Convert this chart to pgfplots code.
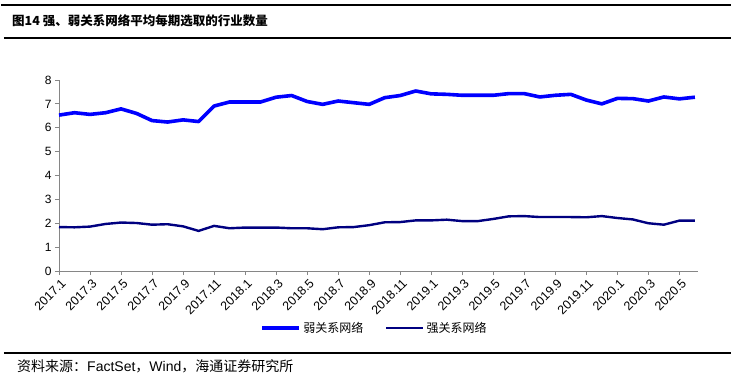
\documentclass[border=0pt]{standalone}
\usepackage{fontspec}
\setmainfont{Liberation Sans}
\newfontfamily\cjk{Noto Sans CJK SC}
\usepackage{pgfplots}
\usepackage{pgfplotstable}
\pgfplotsset{compat=1.18}
\usetikzlibrary{calc}
\definecolor{weak}{RGB}{0,0,255}
\definecolor{strong}{RGB}{0,0,128}
\definecolor{axgray}{RGB}{134,134,134}

\pgfplotstableread{
i weak strong
0 6.53 1.84
1 6.63 1.83
2 6.56 1.86
3 6.63 1.97
4 6.79 2.03
5 6.60 2.01
6 6.30 1.94
7 6.24 1.96
8 6.33 1.87
9 6.26 1.68
10 6.91 1.89
11 7.08 1.79
12 7.08 1.82
13 7.08 1.82
14 7.28 1.82
15 7.35 1.79
16 7.10 1.79
17 6.98 1.75
18 7.12 1.83
19 7.05 1.84
20 6.98 1.92
21 7.26 2.04
22 7.35 2.05
23 7.54 2.12
24 7.42 2.12
25 7.40 2.15
26 7.36 2.09
27 7.36 2.09
28 7.36 2.18
29 7.43 2.29
30 7.43 2.30
31 7.29 2.26
32 7.36 2.26
33 7.40 2.26
34 7.16 2.25
35 7.00 2.30
36 7.23 2.22
37 7.22 2.16
38 7.12 2.00
39 7.29 1.94
40 7.21 2.11
41 7.28 2.11
}\datatable

\begin{document}
\begin{tikzpicture}
\begin{axis}[
  name=ax,
  scale only axis, width=639pt, height=191pt,
  xmin=0, xmax=41.2, ymin=0, ymax=8,
  ytick={0,1,...,8},
  xtick={0,2,...,40},
  xticklabels={2017.1,2017.3,2017.5,2017.7,2017.9,2017.11,2018.1,2018.3,2018.5,2018.7,2018.9,2018.11,2019.1,2019.3,2019.5,2019.7,2019.9,2019.11,2020.1,2020.3,2020.5},
  axis lines*=left,
  axis line style={axgray, line width=0.8pt},
  tick style={axgray, line width=0.8pt},
  tick align=outside,
  major tick length=4pt,
  /pgf/number format/assume math mode=true,
  x tick label style={rotate=45, anchor=north east, font=\fontsize{12.5}{13}\selectfont, xshift=1pt, yshift=-1pt, inner sep=2pt},
  y tick label style={font=\fontsize{12}{13}\selectfont},
  legend style={at={(0.494,-0.298)}, anchor=center, draw=none, fill=none,
    legend columns=2, font=\cjk\fontsize{12}{14}\selectfont,
    /tikz/every even column/.append style={column sep=20pt}},
  legend image code/.code={\draw[#1] (0pt,0pt) -- (37pt,0pt);},
  clip=false,
]
\addplot[weak, line width=3.6pt, line join=round] table[x=i,y=weak] {\datatable};
\addlegendentry{弱关系网络}
\addplot[strong, line width=2.4pt, line join=round] table[x=i,y=strong] {\datatable};
\addlegendentry{强关系网络}
\coordinate (O) at (rel axis cs:0,0);
\end{axis}
\pgfresetboundingbox
\begin{scope}[shift={(O)}, x=1pt, y=1pt, xshift=-59pt, yshift=-110pt]
\path[use as bounding box] (0,0) rectangle (733,381);
\draw[line width=1.3pt] (1,376) -- (731,376);
\draw[line width=1.3pt] (4,343) -- (731,343);
\node[anchor=west, inner sep=0pt, font=\cjk\bfseries\fontsize{12.5}{14}\selectfont] at (12,360.5) {图14 强、弱关系网络平均每期选取的行业数量};
\draw[line width=1.3pt] (4,28) -- (731,28);
\node[anchor=west, inner sep=0pt, font=\fontsize{14}{16}\selectfont] at (17,14.5) {{\cjk 资料来源：}FactSet{\cjk ，}Wind{\cjk ，海通证券研究所}};
\end{scope}
\end{tikzpicture}
\end{document}
